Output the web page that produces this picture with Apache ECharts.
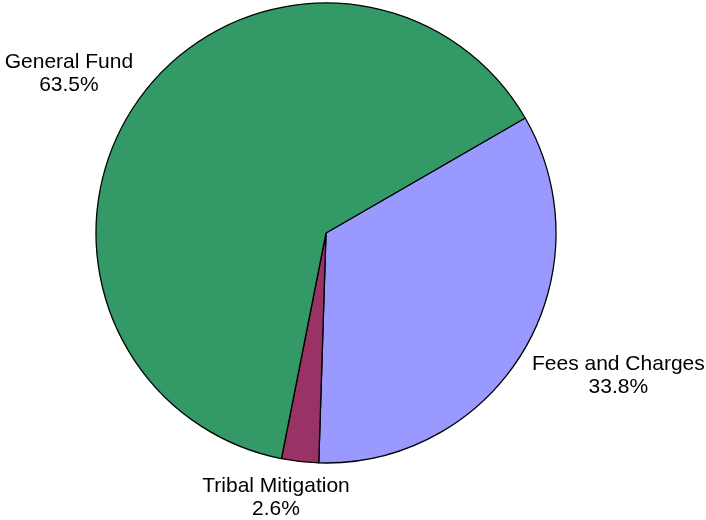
<!DOCTYPE html>
<html>
<head>
<meta charset="utf-8">
<script src="https://cdn.jsdelivr.net/npm/echarts@6/dist/echarts.min.js"></script>
<style>
  html, body { margin: 0; padding: 0; background: #ffffff; }
  #chart { width: 706px; height: 520px; }
</style>
</head>
<body>
<div id="chart"></div>
<script>
// Funding sources, listed clockwise from the upper-right boundary
const categories = ['Fees and Charges', 'Tribal Mitigation', 'General Fund'];
const shares = [33.8, 2.6, 63.5];
const sliceColors = ['#9999FF', '#993366', '#339966'];

const CX = 326, CY = 233, R = 230, START = 30;

// offset of each label's centre from the rim point at its slice's middle angle
const labelOffset = [[95, 25], [-24, 36], [-70, -25]];

const total = shares.reduce((a, b) => a + b, 0);
function midAngle(i) {
  let before = 0;
  for (let k = 0; k < i; k++) before += shares[k];
  return START - (before + shares[i] / 2) / total * 360;
}

const chart = echarts.init(document.getElementById('chart'), null, { renderer: 'canvas' });

const pieData = categories.map((name, i) => ({
  name: name,
  value: shares[i],
  itemStyle: { color: sliceColors[i] }
}));

chart.setOption({
  backgroundColor: '#ffffff',
  animation: false,
  series: [{
    type: 'pie',
    center: [CX, CY],
    radius: R,
    startAngle: START,
    clockwise: true,
    avoidLabelOverlap: false,
    data: pieData,
    itemStyle: { borderColor: '#000000', borderWidth: 1.3 },
    label: {
      show: true,
      position: 'outside',
      formatter: p => p.name + '\n' + p.value.toFixed(1) + '%',
      fontFamily: 'Liberation Sans, Arial, sans-serif',
      fontSize: 21,
      lineHeight: 23,
      color: '#000000'
    },
    labelLine: { show: false },
    labelLayout: function (params) {
      const i = params.dataIndex;
      const a = midAngle(i) * Math.PI / 180;
      const rimX = CX + R * Math.cos(a);
      const rimY = CY - R * Math.sin(a);
      return {
        x: rimX + labelOffset[i][0],
        y: rimY + labelOffset[i][1],
        align: 'center',
        verticalAlign: 'middle'
      };
    },
    emphasis: { disabled: true }
  }]
});
</script>
</body>
</html>
